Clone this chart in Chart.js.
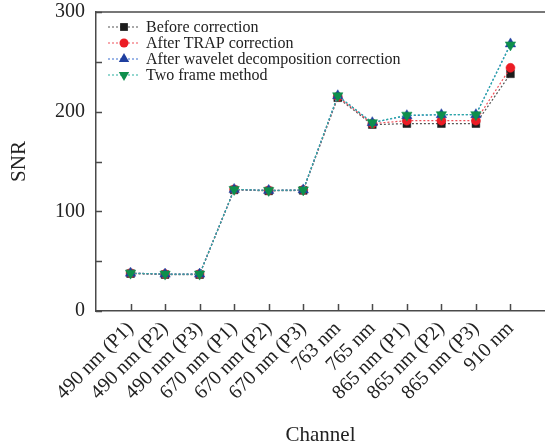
<!DOCTYPE html>
<html>
<head>
<meta charset="utf-8">
<script src="https://cdn.jsdelivr.net/npm/chart.js@4/dist/chart.umd.min.js"></script>
<style>
html,body{margin:0;padding:0;background:#fff;}
#wrap{width:545px;height:444px;position:relative;}
</style>
</head>
<body>
<div id="wrap"><canvas id="c"></canvas></div>
<script>
const categories = ["490 nm (P1)","490 nm (P2)","490 nm (P3)","670 nm (P1)","670 nm (P2)","670 nm (P3)","763 nm","765 nm","865 nm (P1)","865 nm (P2)","865 nm (P3)","910 nm"];
const seriesNames = ["Before correction","After TRAP correction","After wavelet decomposition correction","Two frame method"];
const beforeCorrection = [37.5, 36.5, 36.5, 121.5, 120.5, 121, 214, 187, 188, 188, 188, 238];
const afterTrap       = [38, 37, 37, 122, 121, 121.5, 215, 188, 191, 191, 191, 244];
const afterWavelet    = [38, 37, 37, 122, 121, 121.5, 216, 189, 196, 197, 197, 268];
const twoFrame        = [38, 37, 37, 122, 121, 121.5, 216, 189, 196.5, 197, 197, 267];
const yTickLabels = [0, 100, 200, 300];

const FONT = "'Liberation Serif', 'Times New Roman', serif";
const AXIS = '#4a4a4a';

function pts(arr){ return arr.map((v,i)=>({x:i,y:v})); }

const styles = [
  {fill:'#1c1c1c', line:'#555555', style:'rect', radius:5.5, rot:0},
  {fill:'#ec1c24', line:'#f0505a', style:'circle', radius:4.5, rot:0},
  {fill:'#1f3f9f', line:'#3a6fd0', style:'triangle', radius:6, rot:0},
  {fill:'#0e8f4c', line:'#2ab0a0', style:'triangle', radius:6, rot:180}
];
const seriesData = [beforeCorrection, afterTrap, afterWavelet, twoFrame];

const datasets = seriesData.map((d,k)=>({
  label: seriesNames[k],
  data: pts(d),
  borderColor: styles[k].line,
  backgroundColor: styles[k].fill,
  pointBackgroundColor: styles[k].fill,
  pointBorderColor: styles[k].fill,
  pointBorderWidth: 0.5,
  pointStyle: styles[k].style,
  pointRadius: styles[k].radius,
  pointRotation: styles[k].rot,
  borderWidth: 1.2,
  borderDash: [2,2],
  tension: 0,
  fill: false,
  order: 3-k,
  clip: false
}));

function drawMarker(ctx, s, x, y){
  ctx.save();
  ctx.fillStyle = s.fill;
  ctx.beginPath();
  if (s.style === 'rect'){
    const h = s.radius*Math.SQRT1_2;
    ctx.rect(x-h, y-h, 2*h, 2*h);
  } else if (s.style === 'circle'){
    ctx.arc(x, y, s.radius, 0, Math.PI*2);
  } else {
    ctx.translate(x,y);
    ctx.rotate(s.rot*Math.PI/180);
    const r = s.radius;
    ctx.moveTo(0, -r);
    ctx.lineTo(r*Math.sin(Math.PI/3), r*0.5);
    ctx.lineTo(-r*Math.sin(Math.PI/3), r*0.5);
    ctx.closePath();
  }
  ctx.fill();
  ctx.restore();
}

const framePlugin = {
  id: 'frame',
  afterDraw(chart){
    const {ctx, chartArea:a, scales:{x, y}} = chart;
    ctx.save();
    ctx.strokeStyle = AXIS;
    ctx.lineWidth = 1.5;
    ctx.beginPath();
    ctx.moveTo(a.left, a.top); ctx.lineTo(a.right, a.top);
    ctx.stroke();
    ctx.beginPath();
    for (let v = 0; v <= 300; v += 50){
      const py = Math.round(y.getPixelForValue(v))+0.5;
      ctx.moveTo(a.left, py); ctx.lineTo(a.left+6, py);
    }
    for (let i = 0; i < categories.length; i++){
      const px = Math.round(x.getPixelForValue(i))+0.5;
      ctx.moveTo(px, a.bottom); ctx.lineTo(px, a.bottom-7);
    }
    ctx.stroke();
    const rows = [27, 43, 59, 75];
    ctx.font = "16px " + FONT;
    ctx.textBaseline = 'middle';
    ctx.textAlign = 'left';
    for (let k = 0; k < 4; k++){
      const ry = rows[k];
      ctx.save();
      ctx.strokeStyle = styles[k].line;
      ctx.lineWidth = 1.2;
      ctx.setLineDash([2,2]);
      ctx.beginPath();
      ctx.moveTo(108, ry); ctx.lineTo(139, ry);
      ctx.stroke();
      ctx.restore();
      drawMarker(ctx, styles[k], 124, ry);
      ctx.fillStyle = '#222';
      ctx.fillText(seriesNames[k], 146, ry+1);
    }
    ctx.restore();
  }
};

new Chart(document.getElementById('c'), {
  type: 'line',
  data: { datasets },
  options: {
    responsive: true,
    maintainAspectRatio: false,
    animation: false,
    layout: { autoPadding: false, padding: { top: 12, right: 0, left: 0, bottom: 0 } },
    plugins: { legend: { display: false }, tooltip: { enabled: false } },
    scales: {
      x: {
        type: 'linear',
        min: -1, max: 12,
        grid: { display: false, drawTicks: false },
        border: { display: true, color: AXIS, width: 1.5 },
        afterBuildTicks(scale){ scale.ticks = categories.map((c,i)=>({value:i})); },
        afterFit(scale){ scale.height = 133; scale.paddingLeft = 0; scale.paddingRight = 0; },
        ticks: {
          autoSkip: false,
          maxRotation: 45, minRotation: 45,
          padding: 6,
          color: '#222',
          font: { family: FONT, size: 20 },
          callback: (v) => categories[v] ?? ''
        },
        title: {
          display: true, text: 'Channel', color: '#222',
          font: { family: FONT, size: 21, lineHeight: 0.8 },
          padding: { top: 0, bottom: 0 }
        }
      },
      y: {
        min: 0, max: 300,
        grid: { display: false, drawTicks: false },
        border: { display: true, color: AXIS, width: 1.5 },
        afterBuildTicks(scale){ scale.ticks = yTickLabels.map(v=>({value:v})); },
        afterFit(scale){ scale.width = 96; scale.paddingTop = 0; scale.paddingBottom = 0; },
        ticks: {
          padding: 11,
          color: '#222',
          font: { family: FONT, size: 20 }
        },
        title: {
          display: true, text: 'SNR', color: '#222',
          font: { family: FONT, size: 21 },
          padding: { top: 7, bottom: 0 }
        }
      }
    }
  },
  plugins: [framePlugin]
});
</script>
</body>
</html>
